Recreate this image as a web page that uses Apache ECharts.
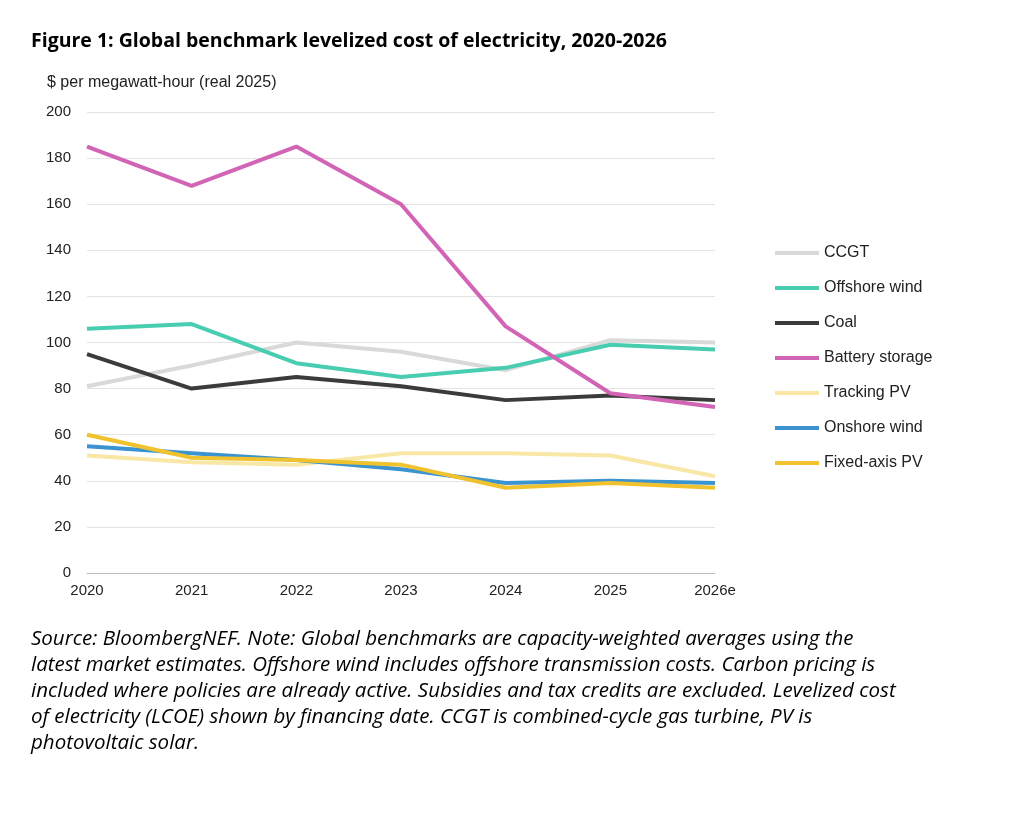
<!DOCTYPE html>
<html>
<head>
<meta charset="utf-8">
<script src="https://cdn.jsdelivr.net/npm/echarts@6/dist/echarts.min.js"></script>
<style>
  body { margin: 0; background: #fff; }
  #chart { width: 1018px; height: 820px; }
</style>
</head>
<body>
<div id="chart"></div>
<script>
'use strict';

var years = ['2020', '2021', '2022', '2023', '2024', '2025', '2026e'];
var ccgt = [81, 90, 100, 96, 88, 101, 100];
var offshoreWind = [106, 108, 91, 85, 89, 99, 97];
var coal = [95, 80, 85, 81, 75, 77, 75];
var batteryStorage = [185, 168, 185, 160, 107, 78, 72];
var trackingPV = [51, 48, 47, 52, 52, 51, 42];
var onshoreWind = [55, 52, 49, 45, 39, 40, 39];
var fixedAxisPV = [60, 50, 49, 47, 37, 39, 37];

var seriesDefs = [
    ['CCGT', ccgt, '#d9d9d9'],
    ['Offshore wind', offshoreWind, '#48cdb0'],
    ['Coal', coal, '#3b3b3b'],
    ['Battery storage', batteryStorage, '#d264b6'],
    ['Tracking PV', trackingPV, '#f9e7a6'],
    ['Onshore wind', onshoreWind, '#3b93cf'],
    ['Fixed-axis PV', fixedAxisPV, '#f0c22e']
];

var sourceNote = [
    'Source: BloombergNEF. Note: Global benchmarks are capacity-weighted averages using the',
    'latest market estimates. Offshore wind includes offshore transmission costs. Carbon pricing is',
    'included where policies are already active. Subsidies and tax credits are excluded. Levelized cost',
    'of electricity (LCOE) shown by financing date. CCGT is combined-cycle gas turbine, PV is',
    'photovoltaic solar.'
].join('\n');

var myChart = echarts.init(document.getElementById('chart'));
var option = {
    backgroundColor: '#fff',
    animation: false,
    title: [{
        text: 'Figure 1: Global benchmark levelized cost of electricity, 2020-2026',
        left: 26, top: 26,
        textStyle: { fontFamily: 'Open Sans', fontWeight: 'bold', fontSize: 19.5, color: '#000' }
    }, {
        text: '$ per megawatt-hour (real 2025)',
        left: 42, top: 70,
        textStyle: { fontFamily: 'Liberation Sans', fontWeight: 'normal', fontSize: 16, color: '#222' }
    }, {
        text: sourceNote,
        left: 26, top: 621,
        textStyle: { fontFamily: 'Open Sans', fontStyle: 'italic', fontWeight: 'normal', fontSize: 20.5, lineHeight: 26, color: '#000' }
    }],
    legend: {
        orient: 'vertical',
        left: 770, top: 240,
        itemGap: 19,
        itemWidth: 44, itemHeight: 4,
        icon: 'rect',
        textStyle: { fontFamily: 'Liberation Sans', fontSize: 16, color: '#222' },
        data: seriesDefs.map(function(d) { return d[0]; })
    },
    grid: { left: 87, right: 303, top: 112, bottom: 247, containLabel: false },
    xAxis: {
        type: 'category',
        data: years,
        boundaryGap: false,
        axisLine: { lineStyle: { color: '#bfbfbf' } },
        axisTick: { show: false },
        axisLabel: { fontFamily: 'Liberation Sans', fontSize: 15, color: '#222', margin: 10 }
    },
    yAxis: {
        type: 'value',
        min: 0, max: 200, interval: 20,
        axisLine: { show: false },
        axisTick: { show: false },
        splitLine: { lineStyle: { color: '#e3e3e3' } },
        axisLabel: { fontFamily: 'Liberation Sans', fontSize: 15, color: '#222', margin: 16 }
    },
    series: seriesDefs.map(function(d) {
        return {
            name: d[0],
            type: 'line',
            data: d[1],
            symbol: 'none',
            color: d[2],
            lineStyle: { width: 4, color: d[2] }
        };
    })
};
myChart.setOption(option);
</script>
</body>
</html>
